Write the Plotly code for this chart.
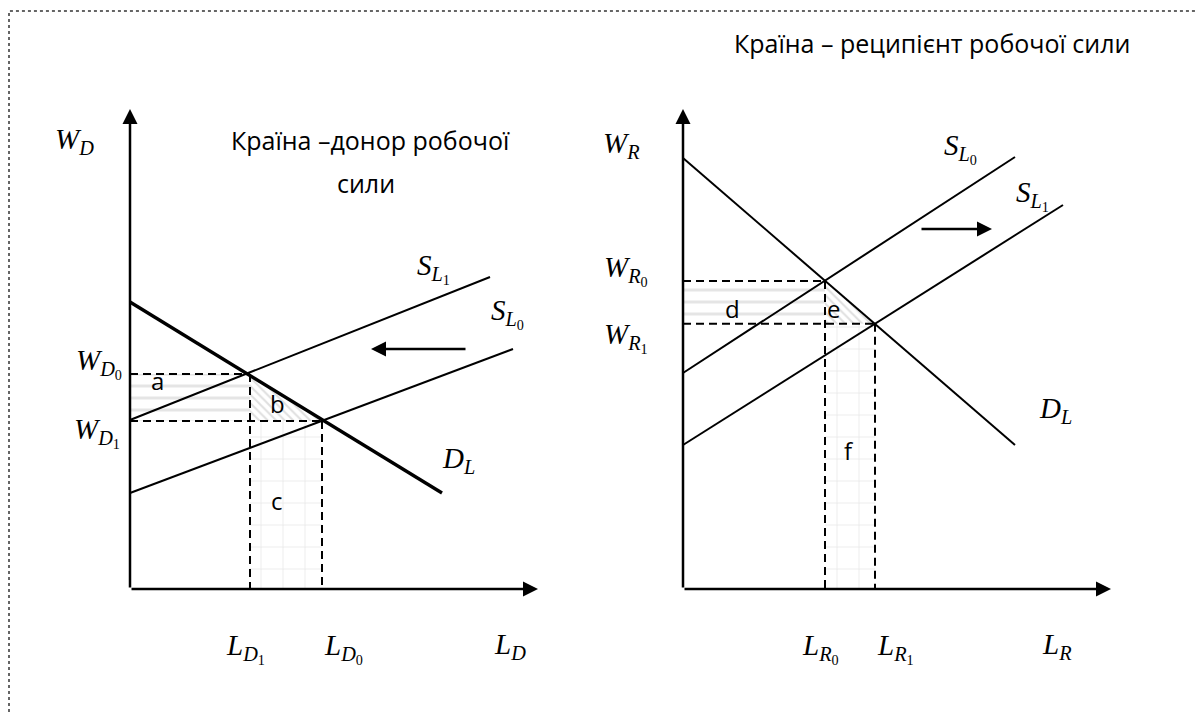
import plotly.graph_objects as go

# Left panel: labour-donor country (values in the diagram's own units)
donor_L = [3.0, 4.8]          # L_D1 (upper equilibrium), L_D0 (lower equilibrium)
donor_W = [5.375, 4.2]        # W_D0, W_D1
donor_demand_x = [0.0, 7.8]
donor_demand_y = [7.175, 2.4]
donor_s1_x = [0.0, 9.0]
donor_s1_y = [4.225, 7.8]
donor_s0_x = [0.0, 9.575]
donor_s0_y = [2.4, 6.0]
donor_axis_end = [10.2, 12.0]
donor_shift_x = [8.425, 6.025]   # tail, tip
donor_shift_y = [6.0, 6.0]

# Right panel: labour-recipient country
recip_L = [3.55, 4.8]         # L_R0, L_R1
recip_W = [7.7, 6.63]         # W_R0, W_R1
recip_demand_x = [0.0, 8.3]
recip_demand_y = [10.775, 3.6]
recip_s0_x = [0.0, 8.3]
recip_s0_y = [5.4, 10.8]
recip_s1_x = [0.0, 9.5]
recip_s1_y = [3.6, 9.6]
recip_axis_end = [10.7, 12.0]
recip_shift_x = [5.925, 7.725]
recip_shift_y = [9.0, 9.0]

# the page body adds an 8px margin, so the figure is drawn 8px in from the window edge
OFF = 8
W, H = 1204 - OFF, 713 - OFF
PX = 40.0                      # pixels per diagram unit
LEFT_ORIGIN = (130, 589)       # window pixels
RIGHT_ORIGIN = (683, 589)

SERIF = "Liberation Serif"
SANS = "Open Sans"
DASH = "8px,5px"
MATH_SIZE = 29
LETTER_SIZE = 24
TITLE_SIZE = 25


def m(base, sub, subsub=None):
    if subsub is None:
        return f"<i>{base}</i><sub><i>{sub}</i></sub>"
    return f"<i>{base}</i><sub><i>{sub}</i><sub>{subsub}</sub></sub>"


fig = go.Figure()


def add_panel(xa, ya, L, Wg, dem, s_a, s_b, dem_width):
    l_hi, l_lo = L
    w_hi, w_lo = Wg
    common = dict(xaxis=xa, yaxis=ya, hoverinfo="skip", showlegend=False)

    # shaded areas
    fig.add_trace(go.Scatter(
        x=[0, l_hi, l_hi, 0, 0], y=[w_lo, w_lo, w_hi, w_hi, w_lo],
        mode="lines", fill="toself", line=dict(width=0), fillcolor="white",
        fillpattern=dict(shape="-", size=12, solidity=0.25,
                         fgcolor="#cccccc", bgcolor="white"), **common))
    fig.add_trace(go.Scatter(
        x=[l_hi, l_hi, l_lo, l_hi], y=[w_hi, w_lo, w_lo, w_hi],
        mode="lines", fill="toself", line=dict(width=0), fillcolor="white",
        fillpattern=dict(shape="\\", size=6, solidity=0.35,
                         fgcolor="#c0c0c0", bgcolor="white"), **common))
    fig.add_trace(go.Scatter(
        x=[l_hi, l_lo, l_lo, l_hi, l_hi], y=[0, 0, w_lo, w_lo, 0],
        mode="lines", fill="toself", line=dict(width=0), fillcolor="white",
        fillpattern=dict(shape="+", size=22, solidity=0.07,
                         fgcolor="#cfcfcf", bgcolor="white"), **common))

    # dashed guides
    fig.add_trace(go.Scatter(
        x=[0, l_hi, None, 0, l_lo, None, l_hi, l_hi, None, l_lo, l_lo],
        y=[w_hi, w_hi, None, w_lo, w_lo, None, w_hi, 0, None, w_lo, 0],
        mode="lines", line=dict(color="black", width=2, dash=DASH), **common))

    # curves
    fig.add_trace(go.Scatter(x=s_a[0], y=s_a[1], mode="lines",
                             line=dict(color="black", width=2), **common))
    fig.add_trace(go.Scatter(x=s_b[0], y=s_b[1], mode="lines",
                             line=dict(color="black", width=2), **common))
    fig.add_trace(go.Scatter(x=dem[0], y=dem[1], mode="lines",
                             line=dict(color="black", width=dem_width), **common))


add_panel("x", "y", donor_L, donor_W, (donor_demand_x, donor_demand_y),
          (donor_s1_x, donor_s1_y), (donor_s0_x, donor_s0_y), 3.4)
add_panel("x2", "y2", recip_L, recip_W, (recip_demand_x, recip_demand_y),
          (recip_s0_x, recip_s0_y), (recip_s1_x, recip_s1_y), 2)

ann = []


def arrow(xr, yr, x0, y0, x1, y1):
    ann.append(dict(x=x1, y=y1, ax=x0, ay=y0, xref=xr, yref=yr, axref=xr, ayref=yr,
                    text="", showarrow=True, arrowhead=2, arrowsize=1.2,
                    arrowwidth=2.5, arrowcolor="black", standoff=0, startstandoff=0))


def label(xr, yr, x, y, text, size=MATH_SIZE, family=SERIF, xanchor="center",
          xshift=0, yshift=0):
    ann.append(dict(x=x, y=y, xref=xr, yref=yr, text=text, showarrow=False,
                    xanchor=xanchor, yanchor="middle", xshift=xshift, yshift=yshift,
                    font=dict(family=family, size=size, color="black")))


# axes
arrow("x", "y", 0, 0, 0, donor_axis_end[1])
arrow("x", "y", 0, 0, donor_axis_end[0], 0)
arrow("x2", "y2", 0, 0, 0, recip_axis_end[1])
arrow("x2", "y2", 0, 0, recip_axis_end[0], 0)
# supply shift arrows
arrow("x", "y", donor_shift_x[0], donor_shift_y[0], donor_shift_x[1], donor_shift_y[1])
arrow("x2", "y2", recip_shift_x[0], recip_shift_y[0], recip_shift_x[1], recip_shift_y[1])

# left panel labels
label("x", "y", 0, 11.2, m("W", "D"), xanchor="right", xshift=-34)
label("x", "y", 0, donor_W[0], m("W", "D", "0"), xanchor="right", xshift=-6, yshift=11)
label("x", "y", 0, donor_W[1], m("W", "D", "1"), xanchor="right", xshift=-8, yshift=-11)
label("x", "y", donor_L[0], 0, m("L", "D", "1"), xshift=-5, yshift=-59)
label("x", "y", donor_L[1], 0, m("L", "D", "0"), xanchor="left", yshift=-59)
label("x", "y", 9.05, 0, m("L", "D"), xanchor="left", yshift=-57)
label("x", "y", 7.575, 8.025, m("S", "L", "1"))
label("x", "y", 9.425, 6.9, m("S", "L", "0"))
label("x", "y", 8.2, 3.225, m("D", "L"))
label("x", "y", 0.675, 5.225, "a", size=LETTER_SIZE, family=SANS)
label("x", "y", 3.675, 4.65, "b", size=LETTER_SIZE, family=SANS)
label("x", "y", 3.675, 2.225, "c", size=LETTER_SIZE, family=SANS)

# right panel labels
label("x2", "y2", 0, 11.1, m("W", "R"), xanchor="right", xshift=-41)
label("x2", "y2", 0, recip_W[0], m("W", "R", "0"), xanchor="right", xshift=-33, yshift=11)
label("x2", "y2", 0, recip_W[1], m("W", "R", "1"), xanchor="right", xshift=-33, yshift=-14)
label("x2", "y2", recip_L[0], 0, m("L", "R", "0"), xshift=-5, yshift=-59)
label("x2", "y2", recip_L[1], 0, m("L", "R", "1"), xanchor="left", yshift=-59)
label("x2", "y2", 8.925, 0, m("L", "R"), xanchor="left", yshift=-57)
label("x2", "y2", 6.925, 11.025, m("S", "L", "0"))
label("x2", "y2", 8.725, 9.85, m("S", "L", "1"))
label("x2", "y2", 9.3, 4.475, m("D", "L"))
label("x2", "y2", 1.225, 7.025, "d", size=LETTER_SIZE, family=SANS)
label("x2", "y2", 3.75, 7.025, "e", size=LETTER_SIZE, family=SANS)
label("x2", "y2", 4.15, 3.475, "f", size=LETTER_SIZE, family=SANS)

# titles (window pixel centres)
for txt, px, py in [("Країна –донор робочої", 370, 140), ("сили", 366, 183),
                    ("Країна – реципієнт робочої сили", 932, 43)]:
    ann.append(dict(x=(px - OFF) / W, y=1 - (py - OFF) / H, xref="paper", yref="paper",
                    text=txt, showarrow=False, xanchor="center", yanchor="middle",
                    font=dict(family=SANS, size=TITLE_SIZE, color="black")))


def xrange(origin_px, d0, d1):
    return [(d0 * W + OFF - origin_px) / PX, (d1 * W + OFF - origin_px) / PX]


yr = [(LEFT_ORIGIN[1] - 713) / PX, (LEFT_ORIGIN[1] - OFF) / PX]
hidden = dict(visible=False, showgrid=False, zeroline=False, fixedrange=True)

fig.update_layout(
    width=W, height=H,
    margin=dict(l=0, r=0, t=0, b=0),
    paper_bgcolor="white", plot_bgcolor="white",
    xaxis=dict(domain=[0, 0.5], range=xrange(LEFT_ORIGIN[0], 0, 0.5), **hidden),
    yaxis=dict(domain=[0, 1], range=yr, **hidden),
    xaxis2=dict(domain=[0.5, 1], range=xrange(RIGHT_ORIGIN[0], 0.5, 1), anchor="y2", **hidden),
    yaxis2=dict(domain=[0, 1], range=yr, anchor="x2", **hidden),
    annotations=ann,
    shapes=[dict(type="rect", xref="paper", yref="paper",
                 x0=1 / W, x1=1.02, y0=-0.02, y1=1 - 3 / H,
                 line=dict(color="#333333", width=1.5, dash="dot"))],
    showlegend=False,
)

fig.write_html("out.html")
